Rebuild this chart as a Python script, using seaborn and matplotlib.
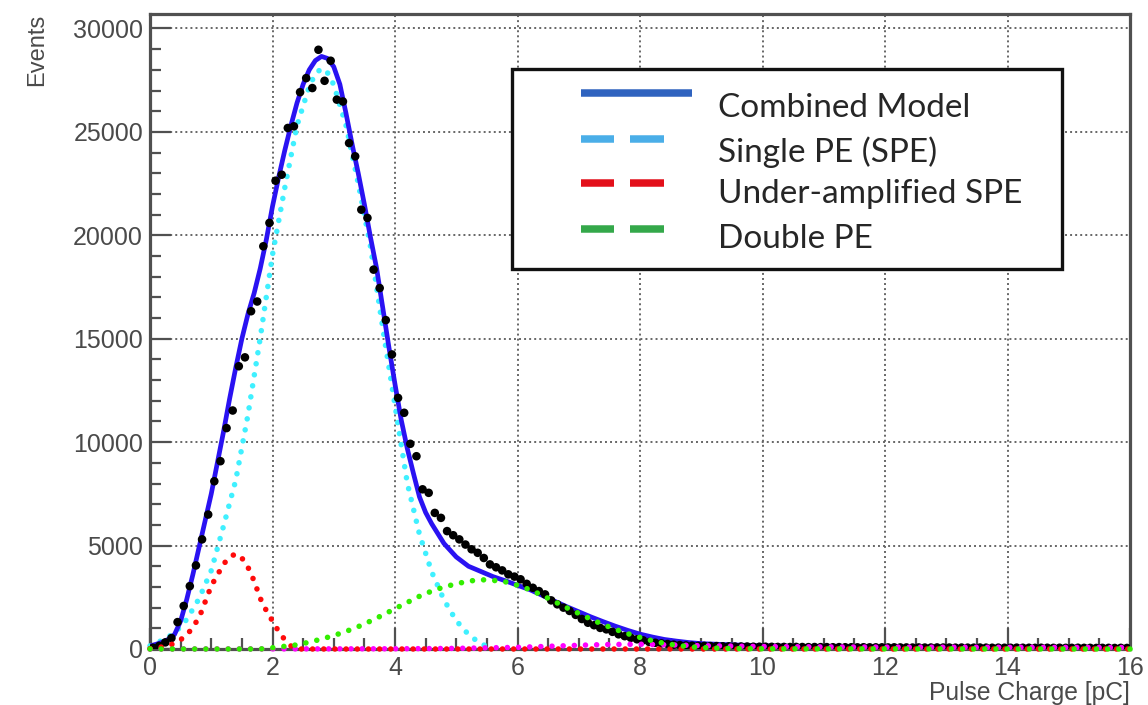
import numpy as np
import pandas as pd
import matplotlib
matplotlib.use("Agg")
import matplotlib.pyplot as plt
import seaborn as sns
from matplotlib.ticker import MultipleLocator
from matplotlib.patches import Rectangle
from matplotlib.lines import Line2D

# ---------------- measured charge spectrum (0.1 pC bins) ----------------
bin_centers = np.round(np.arange(0.05, 16.0, 0.1), 2)
events = [
    60, 150, 320, 530, 1300, 2080, 3040, 4040, 5300, 6500,
    8110, 9080, 10680, 11530, 13670, 14100, 16330, 16800, 19470, 20600,
    22640, 22930, 25190, 25270, 26920, 27600, 27120, 28970, 27470, 28440,
    26560, 26470, 24460, 23820, 21240, 20840, 18340, 17450, 15900, 14240,
    12140, 11420, 9920, 9320, 7720, 7550, 6580, 6340, 5700, 5500,
    5300, 5050, 4820, 4650, 4400, 4090, 3950, 3800, 3610, 3500,
    3370, 3150, 2960, 2800, 2640, 2350, 2160, 2000, 1840, 1650,
    1450, 1270, 1150, 1020, 950, 830, 710, 620, 540, 470,
    420, 340, 300, 270, 240, 210, 190, 170, 160, 150,
    150, 140, 140, 130, 130, 120, 120, 120, 110, 110,
    110, 105, 100, 100, 95, 100, 95, 90, 95, 90,
    90, 85, 90, 85, 85, 80, 85, 80, 80, 80,
    75, 80, 75, 75, 70, 75, 70, 70, 75, 70,
    70, 65, 70, 65, 65, 70, 65, 60, 65, 60,
    60, 65, 60, 60, 55, 60, 60, 55, 60, 55,
    55, 60, 55, 55, 50, 55, 55, 50, 55, 50,
]

# ---------------- fitted model curves ----------------
combined_x = [0.0, 0.1, 0.2, 0.3, 0.4, 0.5, 0.6, 0.7, 0.8, 0.9,
              1.0, 1.1, 1.2, 1.3, 1.4, 1.5, 1.6, 1.7, 1.8, 1.9,
              2.0, 2.1, 2.2, 2.3, 2.4, 2.5, 2.6, 2.7, 2.8, 2.9,
              3.0, 3.1, 3.2, 3.3, 3.4, 3.5, 3.6, 3.7, 3.8, 3.9,
              4.0, 4.1, 4.2, 4.3, 4.4, 4.5, 4.6, 4.8, 5.0, 5.2,
              5.4, 5.6, 5.8, 6.0, 6.2, 6.4, 6.6, 6.8, 7.0, 7.2,
              7.4, 7.6, 7.8, 8.0, 8.2, 8.4, 8.6, 8.8, 9.0, 9.5,
              10.0, 11.0, 12.0, 14.0, 16.0]
combined_y = [150, 230, 330, 470, 700, 1350, 2400, 3600, 4900, 6200,
              7500, 9000, 10500, 12100, 13600, 15000, 16200, 17200, 18400, 19800,
              21400, 22800, 24100, 25300, 26400, 27300, 28000, 28450, 28650, 28550,
              28150, 27300, 25900, 24400, 23000, 21500, 19900, 18400, 16500, 14600,
              12800, 11100, 9700, 8500, 7350, 6600, 6050, 5100, 4450, 4000,
              3750, 3500, 3300, 3080, 2870, 2600, 2320, 2050, 1800, 1550,
              1320, 1100, 900, 720, 580, 460, 380, 310, 260, 200,
              150, 110, 85, 60, 50]

spe_x = [0.0, 0.2, 0.4, 0.6, 0.8, 1.0, 1.2, 1.4, 1.6, 1.8,
         2.0, 2.2, 2.4, 2.6, 2.7, 2.8, 2.9, 3.0, 3.2, 3.4,
         3.6, 3.8, 4.0, 4.2, 4.4, 4.6, 4.8, 5.0, 5.2, 5.4, 5.6]
spe_y = [150, 420, 760, 1430, 2430, 3790, 5940, 8160, 11330, 15040,
         19060, 22290, 25310, 27200, 27800, 28070, 27850, 27280, 25320, 22510,
         19460, 15520, 11780, 8030, 5540, 3720, 2370, 1370, 700, 250, 30]

under_x = [0.0, 0.2, 0.4, 0.6, 0.8, 1.0, 1.2, 1.3, 1.4, 1.5,
           1.6, 1.7, 1.8, 1.9, 2.0, 2.1, 2.2, 2.3, 2.4, 16.0]
under_y = [20, 100, 260, 650, 1500, 3050, 4100, 4450, 4600, 4400,
           3950, 3290, 2450, 1850, 1350, 850, 450, 150, 0, 0]

double_x = [0.0, 1.8, 2.0, 2.2, 2.4, 2.6, 2.8, 3.0, 3.2, 3.4,
            3.6, 3.8, 4.0, 4.2, 4.4, 4.6, 4.8, 5.0, 5.2, 5.4,
            5.6, 5.8, 6.0, 6.2, 6.4, 6.6, 6.8, 7.0, 7.2, 7.4,
            7.6, 7.8, 8.0, 8.2, 8.4, 8.6, 8.8, 9.0, 9.4, 10.0, 16.0]
double_y = [0, 0, 60, 130, 200, 330, 480, 650, 850, 1080,
            1350, 1640, 1950, 2250, 2550, 2800, 3000, 3150, 3280, 3350,
            3320, 3250, 3080, 2870, 2600, 2300, 2000, 1720, 1440, 1180,
            950, 740, 560, 400, 270, 180, 110, 70, 30, 10, 0]

other_x = [0.0, 4.0, 5.0, 6.0, 7.0, 7.5, 8.0, 8.5, 9.0, 10.0, 11.0, 12.0, 14.0, 16.0]
other_y = [0, 10, 30, 80, 180, 220, 230, 200, 160, 120, 100, 90, 80, 70]

legend_labels = ["Combined Model", "Single PE (SPE)", "Under-amplified SPE", "Double PE"]

# ---------------- styling ----------------
sns.set_theme(style="white")
plt.rcParams["font.family"] = ["Liberation Sans", "DejaVu Sans"]

fig = plt.figure(figsize=(11.48, 7.05), dpi=100)
ax = fig.add_axes([150 / 1148, 1 - 649 / 705, 980 / 1148, 635 / 705])
ax.set_facecolor("white")

frame_col = "#505050"
text_col = "#4a4a4a"

ax.set_xlim(0, 16)
ax.set_ylim(0, 30700)
ax.xaxis.set_major_locator(MultipleLocator(2))
ax.xaxis.set_minor_locator(MultipleLocator(0.5))
ax.yaxis.set_major_locator(MultipleLocator(5000))
ax.yaxis.set_minor_locator(MultipleLocator(1000))
ax.grid(True, which="major", color="#666666", linestyle=(0, (1.0, 1.6)), linewidth=1.4)
ax.set_axisbelow(True)

for s in ax.spines.values():
    s.set_color(frame_col)
    s.set_linewidth(2.3)

ax.tick_params(which="both", direction="in", color=frame_col, width=1.6,
               labelcolor=text_col, labelsize=18, top=False, right=False,
               left=True, bottom=True)
ax.tick_params(which="major", length=15, pad=5)
ax.tick_params(which="minor", length=8)

dot_style = dict(linestyle=(0, (0.01, 2.0)), dash_capstyle="round", linewidth=4.0,
                 clip_on=False)

df_data = pd.DataFrame({"charge": bin_centers, "events": events})
sns.scatterplot(data=df_data, x="charge", y="events", ax=ax, color="black",
                s=38, edgecolor="none", zorder=4, legend=False)

sns.lineplot(x=other_x, y=other_y, ax=ax, color="#ff00ff", zorder=5, **dot_style)
sns.lineplot(x=under_x, y=under_y, ax=ax, color="#ff0a0a", zorder=5, **dot_style)
sns.lineplot(x=double_x, y=double_y, ax=ax, color="#33ee00", zorder=5, **dot_style)
sns.lineplot(x=spe_x, y=spe_y, ax=ax, color="#3ff0ff", zorder=3.5, **dot_style)
sns.lineplot(x=combined_x, y=combined_y, ax=ax, color="#2a12f2", linewidth=3.4,
             zorder=3.6)

ax.set_xlabel("Pulse Charge [pC]", loc="right", fontsize=17.7, color=text_col, labelpad=1)
ax.set_ylabel("Events", loc="top", fontsize=17, color=text_col)
ax.yaxis.set_label_coords(-0.104, 1.0)

# ---------------- legend box ----------------
ax.add_patch(Rectangle((0.3694, 0.5984), 0.5612, 0.3150, transform=ax.transAxes,
                       facecolor="white", edgecolor="#111111", linewidth=2.4,
                       zorder=8))
legend_colors = ["#2f63bf", "#4aaee8", "#e3101a", "#34a84a"]
line_rows = [0.8756, 0.8029, 0.7345, 0.6614]
text_rows = [0.8378, 0.7669, 0.7024, 0.6315]
for i, (lab, col) in enumerate(zip(legend_labels, legend_colors)):
    y = line_rows[i]
    if i == 0:
        ax.add_line(Line2D([0.4393, 0.5533], [y, y], transform=ax.transAxes,
                           color=col, linewidth=5.4, solid_capstyle="butt", zorder=9))
    else:
        for x0, x1 in [(0.4393, 0.4736), (0.4901, 0.5242)]:
            ax.add_line(Line2D([x0, x1], [y, y], transform=ax.transAxes,
                               color=col, linewidth=5.4, solid_capstyle="butt", zorder=9))
    ax.text(0.5796, text_rows[i], lab, transform=ax.transAxes, fontsize=24,
            family=["Lato", "DejaVu Sans"], color="#262626", va="baseline",
            ha="left", zorder=9)

fig.savefig("out.png", dpi=100, facecolor="white")
